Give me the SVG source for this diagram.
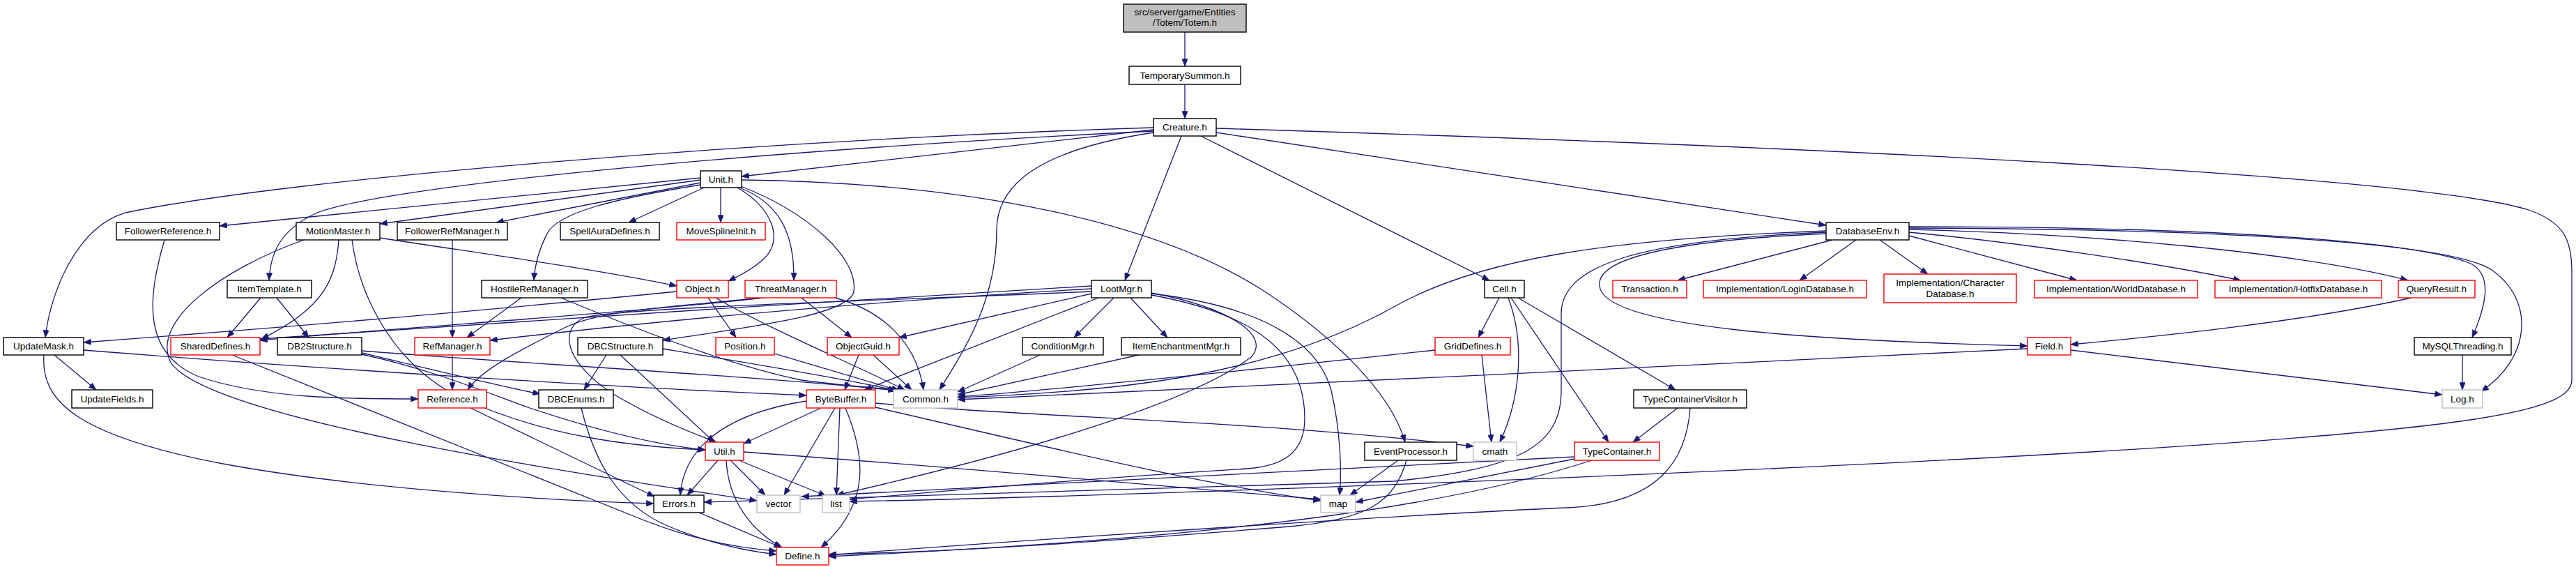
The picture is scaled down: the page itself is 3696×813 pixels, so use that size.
<svg xmlns="http://www.w3.org/2000/svg" width="3696" height="813" viewBox="0 0 3696 813">
<style>
.node rect{fill:#fff;stroke:#000;stroke-width:1.4}
.node.red rect{stroke:#ff0000}
.node.gray rect{stroke:#bfbfbf}
.node.root rect{fill:#bfbfbf}
.node text{font-family:"Liberation Sans",Arial,sans-serif;font-size:13.5px;text-anchor:middle;fill:#000}
#edges path{fill:none;stroke:#191970;stroke-width:1.3;marker-end:url(#arr)}
</style>
<defs>
<marker id="arr" viewBox="0 0 10 8" refX="10" refY="4" markerWidth="11" markerHeight="8.5" markerUnits="userSpaceOnUse" orient="auto"><path d="M0,0 L10,4 L0,8 z" fill="#191970" stroke="#191970" stroke-width="0.5"/></marker>
</defs>
<rect width="3696" height="813" fill="#fff"/>
<g id="edges">
<path d="M1700,46 L1700,95"/>
<path d="M1700,121 L1700,170"/>
<path d="M1655,186 L1064,253"/>
<path d="M1655,183 C1100,200 420,255 180,305 C110,325 72,420 65,484"/>
<path d="M1655,188 C1100,215 560,265 455,305 C400,330 388,365 386,402"/>
<path d="M1655,190 C1490,215 1430,265 1430,330 C1430,430 1385,500 1348,559"/>
<path d="M1695,195 L1614,402"/>
<path d="M1723,195 L2137,402"/>
<path d="M1745,190 L2620,323"/>
<path d="M1745,184 C2600,210 3450,250 3625,300 C3680,318 3690,345 3690,390 L3690,545 C3690,590 3550,615 3000,648 C2500,678 1600,712 1219,719"/>
<path d="M1005,255 L315,324"/>
<path d="M1005,258 L545,321"/>
<path d="M1005,262 L712,319"/>
<path d="M1005,265 C880,285 800,305 785,335 C772,360 767,385 766,402"/>
<path d="M1010,269 L902,319"/>
<path d="M1034,269 L1034,319"/>
<path d="M1058,269 C1110,300 1125,345 1095,372 C1075,390 1055,398 1045,403"/>
<path d="M1061,269 C1115,290 1140,330 1139,402"/>
<path d="M1063,267 C1160,305 1232,370 1225,418 C1218,452 1080,468 951,488"/>
<path d="M1064,258 C1400,262 1660,320 1810,415 C1910,480 1995,560 2016,634"/>
<path d="M545,341 C700,365 850,385 971,410"/>
<path d="M486,344 C482,395 470,440 375,486"/>
<path d="M505,344 C515,420 560,520 660,570 C780,625 900,640 1012,645"/>
<path d="M436,344 C320,385 215,460 245,520 C300,600 800,675 1086,718"/>
<path d="M236,344 C214,420 200,505 285,540 C380,572 500,572 600,572"/>
<path d="M649,344 L649,484"/>
<path d="M748,427 L670,484"/>
<path d="M805,427 C920,475 1050,525 1150,545 C1210,553 1255,556 1290,559"/>
<path d="M374,427 L326,484"/>
<path d="M397,427 L443,484"/>
<path d="M971,418 C700,445 400,470 120,491"/>
<path d="M1016,427 L1056,484"/>
<path d="M1027,427 C1100,470 1220,520 1298,559"/>
<path d="M1093,427 C950,445 600,468 373,488"/>
<path d="M1095,427 C960,440 860,445 810,470 C750,500 690,530 671,559"/>
<path d="M1150,427 L1222,484"/>
<path d="M1198,427 C1265,445 1315,490 1325,559"/>
<path d="M1566,410 C1200,430 700,465 373,486"/>
<path d="M1566,414 C1200,435 900,465 703,488"/>
<path d="M1566,418 C1300,430 900,440 840,455 C800,470 810,520 880,565 C930,595 990,620 1028,634"/>
<path d="M1566,421 L1290,484"/>
<path d="M1576,427 L1240,559"/>
<path d="M1598,427 L1541,484"/>
<path d="M1622,427 L1675,484"/>
<path d="M1652,420 C1760,440 1825,480 1795,512 C1700,585 1420,660 1200,710"/>
<path d="M1652,423 C1800,450 1872,505 1872,600 C1872,650 1840,668 1790,672 C1500,690 1350,705 1219,716"/>
<path d="M1652,421 C1800,438 1890,485 1910,560 C1924,620 1925,680 1922,710"/>
<path d="M1492,509 L1374,562"/>
<path d="M1634,509 L1374,566"/>
<path d="M519,506 C600,525 700,550 775,565"/>
<path d="M519,503 C700,518 1100,540 1285,560"/>
<path d="M519,508 C620,530 690,560 760,585 C850,615 940,638 1012,645"/>
<path d="M870,509 L838,559"/>
<path d="M890,509 L1025,634"/>
<path d="M951,500 C1100,525 1220,545 1286,560"/>
<path d="M649,509 L649,559"/>
<path d="M1111,507 L1290,560"/>
<path d="M1232,509 L1212,559"/>
<path d="M1253,509 L1308,559"/>
<path d="M2059,502 C1800,530 1500,560 1374,569"/>
<path d="M2126,509 L2140,634"/>
<path d="M2151,427 L2121,484"/>
<path d="M2164,427 C2188,490 2182,570 2152,634"/>
<path d="M2168,427 L2308,634"/>
<path d="M2178,427 L2404,559"/>
<path d="M2407,585 L2343,634"/>
<path d="M2425,585 C2420,655 2385,722 2250,728 C2050,736 1500,772 1189,796"/>
<path d="M2259,658 L1945,720"/>
<path d="M2284,660 C2100,720 1800,770 1189,798"/>
<path d="M2259,655 C2000,670 1600,690 1150,712"/>
<path d="M2006,660 L1937,710"/>
<path d="M2018,660 C2000,722 1960,745 1850,755 C1600,775 1400,790 1189,795"/>
<path d="M1178,585 L1067,636"/>
<path d="M1157,575 C1060,590 982,630 976,710"/>
<path d="M1198,585 L1125,710"/>
<path d="M1205,585 L1200,710"/>
<path d="M1213,585 C1240,650 1252,720 1178,785"/>
<path d="M1256,578 C1500,600 1800,602 2114,640"/>
<path d="M1256,584 C1500,640 1700,690 1895,718"/>
<path d="M1030,660 L986,710"/>
<path d="M1048,660 L1098,710"/>
<path d="M1060,660 L1185,711"/>
<path d="M1042,660 C1045,720 1080,762 1122,785"/>
<path d="M1067,648 C1400,672 1700,700 1895,716"/>
<path d="M1003,735 L1121,785"/>
<path d="M834,585 C850,650 880,722 960,755 C1020,780 1070,790 1114,795"/>
<path d="M333,509 L924,746 C990,772 1050,785 1114,790"/>
<path d="M78,509 L138,559"/>
<path d="M63,509 C58,575 110,625 320,665 C520,702 800,718 938,722"/>
<path d="M120,502 C500,532 900,556 1157,567"/>
<path d="M675,585 L939,712"/>
<path d="M2629,344 L2407,402"/>
<path d="M2663,344 L2582,402"/>
<path d="M2697,344 L2766,393"/>
<path d="M2739,338 L2980,402"/>
<path d="M2739,333 C2900,348 3100,378 3215,402"/>
<path d="M2739,329 C3000,335 3300,362 3455,402"/>
<path d="M2739,325 C3100,325 3450,340 3545,378 C3578,395 3566,440 3547,484"/>
<path d="M2739,327 C3150,328 3500,345 3572,385 C3640,430 3630,515 3560,561"/>
<path d="M2620,335 C2400,345 2290,370 2295,410 C2300,470 2600,488 2909,496"/>
<path d="M2620,331 C2300,343 2120,372 2000,440 C1820,540 1600,562 1374,570"/>
<path d="M2620,333 C2350,345 2240,380 2240,450 L2240,560 C2240,640 2180,672 2000,690 C1600,704 1300,710 1010,720"/>
<path d="M3460,427 C3300,462 3100,482 2971,494"/>
<path d="M3533,509 L3533,559"/>
<path d="M2971,502 L3504,566"/>
<path d="M2909,500 C2500,518 1800,556 1374,573"/>
</g>
<g id="n_totem" class="node root"><rect x="1612" y="6" width="176" height="40"/><text x="1700" y="22">src/server/game/Entities</text><text x="1700" y="37">/Totem/Totem.h</text></g>
<g id="n_temporarysummon" class="node"><rect x="1620" y="95" width="160" height="26"/><text x="1700" y="113">TemporarySummon.h</text></g>
<g id="n_creature" class="node"><rect x="1655" y="170" width="90" height="25"/><text x="1700" y="187">Creature.h</text></g>
<g id="n_unit" class="node"><rect x="1005" y="245" width="59" height="24"/><text x="1034.5" y="262">Unit.h</text></g>
<g id="n_followerreference" class="node"><rect x="167" y="319" width="148" height="25"/><text x="241" y="336">FollowerReference.h</text></g>
<g id="n_motionmaster" class="node"><rect x="425" y="319" width="120" height="25"/><text x="485" y="336">MotionMaster.h</text></g>
<g id="n_followerrefmanager" class="node"><rect x="570" y="319" width="158" height="25"/><text x="649" y="336">FollowerRefManager.h</text></g>
<g id="n_spellauradefines" class="node"><rect x="804" y="319" width="142" height="25"/><text x="875" y="336">SpellAuraDefines.h</text></g>
<g id="n_movesplineinit" class="node red"><rect x="971" y="319" width="127" height="25"/><text x="1034.5" y="336">MoveSplineInit.h</text></g>
<g id="n_databaseenv" class="node"><rect x="2620" y="319" width="119" height="25"/><text x="2679.5" y="336">DatabaseEnv.h</text></g>
<g id="n_itemtemplate" class="node"><rect x="326" y="402" width="121" height="25"/><text x="386.5" y="419">ItemTemplate.h</text></g>
<g id="n_hostilerefmanager" class="node"><rect x="691" y="402" width="152" height="25"/><text x="767" y="419">HostileRefManager.h</text></g>
<g id="n_object" class="node red"><rect x="971" y="402" width="74" height="25"/><text x="1008" y="419">Object.h</text></g>
<g id="n_threatmanager" class="node red"><rect x="1069" y="402" width="131" height="25"/><text x="1134.5" y="419">ThreatManager.h</text></g>
<g id="n_lootmgr" class="node"><rect x="1566" y="402" width="86" height="25"/><text x="1609" y="419">LootMgr.h</text></g>
<g id="n_cell" class="node"><rect x="2130" y="402" width="57" height="25"/><text x="2158.5" y="419">Cell.h</text></g>
<g id="n_transaction" class="node red"><rect x="2314" y="402" width="106" height="25"/><text x="2367" y="419">Transaction.h</text></g>
<g id="n_logindatabase" class="node red"><rect x="2444" y="402" width="234" height="25"/><text x="2561" y="419">Implementation/LoginDatabase.h</text></g>
<g id="n_characterdatabase" class="node red"><rect x="2703" y="393" width="190" height="41"/><text x="2798" y="410">Implementation/Character</text><text x="2798" y="426">Database.h</text></g>
<g id="n_worlddatabase" class="node red"><rect x="2919" y="402" width="234" height="25"/><text x="3036" y="419">Implementation/WorldDatabase.h</text></g>
<g id="n_hotfixdatabase" class="node red"><rect x="3178" y="402" width="239" height="25"/><text x="3297.5" y="419">Implementation/HotfixDatabase.h</text></g>
<g id="n_queryresult" class="node red"><rect x="3441" y="402" width="110" height="25"/><text x="3496" y="419">QueryResult.h</text></g>
<g id="n_updatemask" class="node"><rect x="5" y="484" width="115" height="25"/><text x="62.5" y="501">UpdateMask.h</text></g>
<g id="n_shareddefines" class="node red"><rect x="245" y="484" width="128" height="25"/><text x="309" y="501">SharedDefines.h</text></g>
<g id="n_db2structure" class="node"><rect x="398" y="484" width="121" height="25"/><text x="458.5" y="501">DB2Structure.h</text></g>
<g id="n_refmanager" class="node red"><rect x="595" y="484" width="108" height="25"/><text x="649" y="501">RefManager.h</text></g>
<g id="n_dbcstructure" class="node"><rect x="829" y="484" width="122" height="25"/><text x="890" y="501">DBCStructure.h</text></g>
<g id="n_position" class="node red"><rect x="1027" y="484" width="84" height="25"/><text x="1069" y="501">Position.h</text></g>
<g id="n_objectguid" class="node red"><rect x="1187" y="484" width="103" height="25"/><text x="1238.5" y="501">ObjectGuid.h</text></g>
<g id="n_conditionmgr" class="node"><rect x="1467" y="484" width="116" height="25"/><text x="1525" y="501">ConditionMgr.h</text></g>
<g id="n_itemenchantmentmgr" class="node"><rect x="1609" y="484" width="171" height="25"/><text x="1694.5" y="501">ItemEnchantmentMgr.h</text></g>
<g id="n_griddefines" class="node red"><rect x="2059" y="484" width="108" height="25"/><text x="2113" y="501">GridDefines.h</text></g>
<g id="n_field" class="node red"><rect x="2909" y="484" width="62" height="25"/><text x="2940" y="501">Field.h</text></g>
<g id="n_mysqlthreading" class="node"><rect x="3464" y="484" width="139" height="25"/><text x="3533.5" y="501">MySQLThreading.h</text></g>
<g id="n_updatefields" class="node"><rect x="103" y="559" width="116" height="26"/><text x="161" y="577">UpdateFields.h</text></g>
<g id="n_reference" class="node red"><rect x="600" y="559" width="98" height="26"/><text x="649" y="577">Reference.h</text></g>
<g id="n_dbcenums" class="node"><rect x="773" y="559" width="107" height="26"/><text x="826.5" y="577">DBCEnums.h</text></g>
<g id="n_bytebuffer" class="node red"><rect x="1157" y="559" width="99" height="26"/><text x="1206.5" y="577">ByteBuffer.h</text></g>
<g id="n_common" class="node gray"><rect x="1282" y="559" width="92" height="26"/><text x="1328" y="577">Common.h</text></g>
<g id="n_typecontainervisitor" class="node"><rect x="2344" y="559" width="162" height="26"/><text x="2425" y="577">TypeContainerVisitor.h</text></g>
<g id="n_log" class="node gray"><rect x="3504" y="559" width="58" height="26"/><text x="3533" y="577">Log.h</text></g>
<g id="n_util" class="node red"><rect x="1012" y="634" width="55" height="26"/><text x="1039.5" y="652">Util.h</text></g>
<g id="n_eventprocessor" class="node"><rect x="1958" y="634" width="132" height="26"/><text x="2024" y="652">EventProcessor.h</text></g>
<g id="n_cmath" class="node gray"><rect x="2114" y="634" width="62" height="26"/><text x="2145" y="652">cmath</text></g>
<g id="n_typecontainer" class="node red"><rect x="2259" y="634" width="122" height="26"/><text x="2320" y="652">TypeContainer.h</text></g>
<g id="n_errors" class="node"><rect x="938" y="710" width="72" height="25"/><text x="974" y="727">Errors.h</text></g>
<g id="n_vector" class="node gray"><rect x="1086" y="710" width="62" height="25"/><text x="1117" y="727">vector</text></g>
<g id="n_list" class="node gray"><rect x="1180" y="710" width="39" height="25"/><text x="1199.5" y="727">list</text></g>
<g id="n_map" class="node gray"><rect x="1895" y="710" width="50" height="25"/><text x="1920" y="727">map</text></g>
<g id="n_define" class="node red"><rect x="1114" y="785" width="75" height="25"/><text x="1151.5" y="802">Define.h</text></g>
</svg>
